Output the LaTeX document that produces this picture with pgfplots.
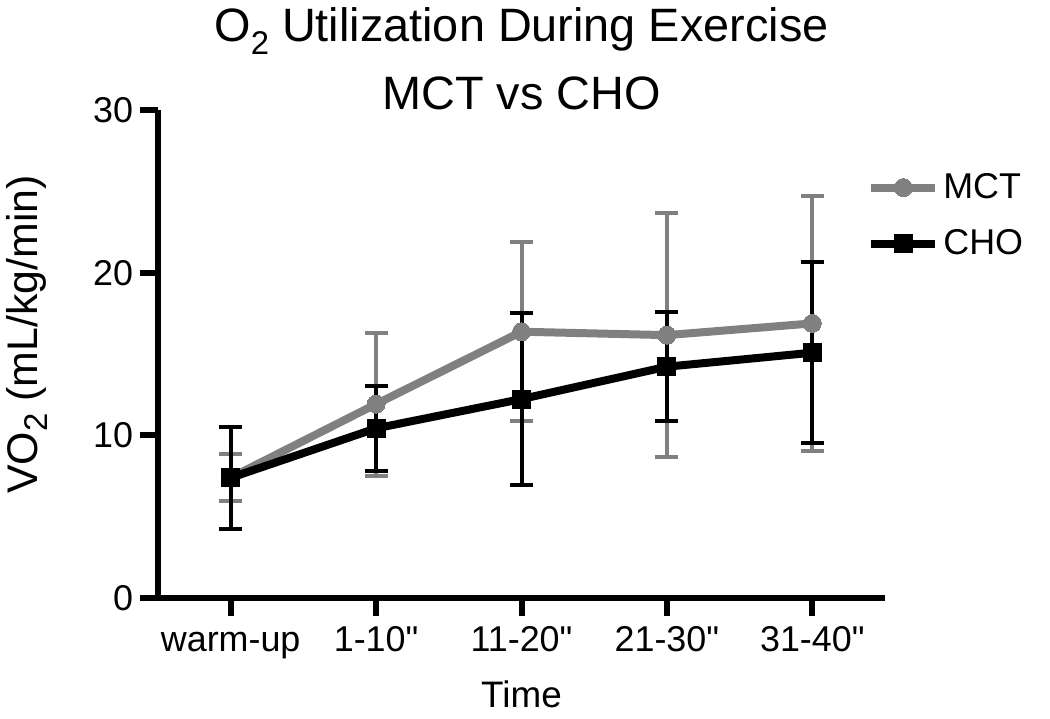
\documentclass[border=0pt]{standalone}
\usepackage{fontspec}
\setmainfont{Liberation Sans}[Ligatures=TeXOff]
\usepackage{pgfplots}
\pgfplotsset{compat=1.18}
\definecolor{mctgray}{RGB}{128,128,128}
\newcommand{\lowtwo}[2]{\raisebox{-#1}{\fontsize{#2}{#2}\selectfont 2}}

\begin{document}
\begin{tikzpicture}
    \begin{axis}[
        scale only axis, width=363.5bp, height=244bp,
        xmin=-0.5, xmax=4.5, ymin=0, ymax=30,
        axis x line=bottom, axis y line=left,
        axis line style={line width=3bp, -},
        xtick={0,1,2,3,4},
        xticklabels={warm-up,1-10",11-20",21-30",31-40"},
        ytick={0,10,20,30},
        tick align=outside, major tick length=9bp,
        tick style={line width=3bp, black},
        /pgf/number format/assume math mode=true,
        ticklabel style={font=\fontsize{18}{18}\selectfont},
        xticklabel style={yshift=-1bp, text height=13bp, text depth=4bp},
        xlabel={Time},
        xlabel style={font=\fontsize{18.5}{18.5}\selectfont, yshift=-4bp},
        ylabel={VO\lowtwo{5bp}{16.5} (mL/kg/min)},
        ylabel style={font=\fontsize{21.5}{21.5}\selectfont,
            at={(axis description cs:-0.18,0.54)}, anchor=center},
        title={O\lowtwo{6.5bp}{16.5} Utilization During Exercise\\MCT vs CHO},
        title style={font=\fontsize{23.5}{34}\selectfont, align=center,
            at={(0.5,1)}, anchor=south, inner sep=0pt, yshift=-6bp},
        legend style={draw=none, fill=none, at={(0.967,0.887)}, anchor=north west,
            font=\fontsize{18}{18}\selectfont, row sep=10bp,
            /tikz/every even column/.append style={column sep=4bp}},
        legend cell align=left,
        legend image code/.code={
            \draw[mark repeat=2, mark phase=2]
            plot coordinates {(0bp,0bp) (16bp,0bp) (32bp,0bp)};
        },
        clip=false,
    ]
        \addplot[color=mctgray, line width=4bp, mark=*,
            mark options={solid, mark size=4.5bp, line width=0pt, fill=mctgray},
            error bars/.cd, y dir=both, y explicit,
            error bar style={line width=2bp, color=mctgray},
            error mark options={rotate=90, line width=2bp, mark size=5.75bp, color=mctgray}]
            coordinates {
            (0,7.40)  +- (0,1.45)
            (1,11.92) +- (0,4.40)
            (2,16.37) +- (0,5.50)
            (3,16.16) +- (0,7.50)
            (4,16.88) +- (0,7.85)
        };
        \addlegendentry{MCT}
        \addplot[color=black, line width=4bp, mark=square*,
            mark options={solid, mark size=4.5bp, line width=0pt, fill=black},
            error bars/.cd, y dir=both, y explicit,
            error bar style={line width=2bp, color=black},
            error mark options={rotate=90, line width=2bp, mark size=5.75bp, color=black}]
            coordinates {
            (0,7.39)  +- (0,3.15)
            (1,10.43) +- (0,2.60)
            (2,12.23) +- (0,5.30)
            (3,14.22) +- (0,3.36)
            (4,15.08) +- (0,5.55)
        };
        \addlegendentry{CHO}
    \end{axis}
    \pgfresetboundingbox
    \path (current axis.south west) ++(-79bp,-60.5bp) rectangle ++(525bp,359.5bp);
\end{tikzpicture}
\end{document}
